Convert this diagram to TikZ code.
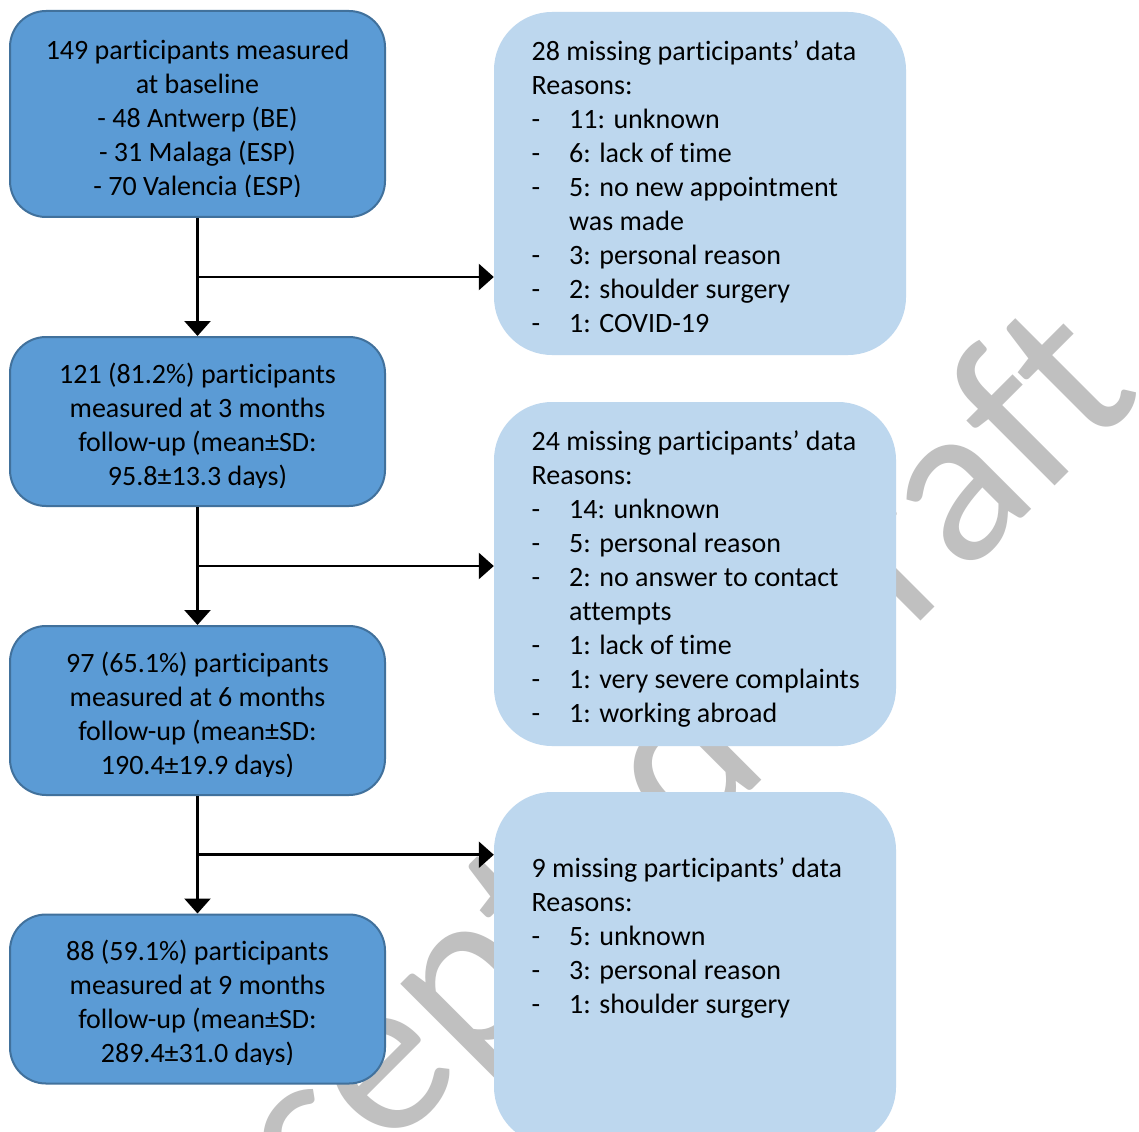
\documentclass[tikz,border=0pt]{standalone}
\usepackage{fontspec}
\setmainfont{Carlito}[Ligatures={NoCommon}]
\newfontfamily\wmfont{Carlito}[Ligatures={NoCommon}]
\usetikzlibrary{arrows.meta,calc}
\definecolor{darkfill}{HTML}{5B9BD5}
\definecolor{darkline}{HTML}{41719C}
\definecolor{lightfill}{HTML}{BDD7EE}
\definecolor{wmgray}{HTML}{C0C0C0}
\newcommand{\itm}[1]{\makebox[37.5pt][l]{-}#1}
\newcommand{\cont}[1]{\hspace*{37.5pt}#1}
\begin{document}
\begin{tikzpicture}[x=1pt,y=-1pt,
  darkbox/.style={rectangle, rounded corners=36pt, draw=darkline, line width=2pt, fill=darkfill, minimum width=375pt, inner sep=0pt},
  lightbox/.style={rectangle, rounded corners=58pt, fill=lightfill, inner sep=0pt},
  boxtext/.style={inner sep=0pt, font=\fontsize{28}{34}\selectfont, text=black},
  arr/.style={line width=2.7pt, -{Triangle[width=26pt,length=15pt]}},
  wm/.style={inner sep=0pt, text=wmgray, font=\wmfont\fontsize{231}{270}\selectfont}]
\fill[white] (0,0) rectangle (1139,1131);
\useasboundingbox (0,0) rectangle (1139,1131);
% watermark
\node[wm, rotate=45] (wmark) at (606,848) {Accepted Draft};
% dark boxes
\node[darkbox, minimum height=206pt] (b1) at (197.5,114) {};
\node[darkbox, minimum height=169pt] (b2) at (197.5,421.5) {};
\node[darkbox, minimum height=169pt] (b3) at (197.5,710.5) {};
\node[darkbox, minimum height=169pt] (b4) at (197.5,999) {};
% light boxes
\node[lightbox, minimum width=412pt, minimum height=343pt] (l1) at (700,183.5) {};
\node[lightbox, minimum width=402pt, minimum height=344pt] (l2) at (695,574) {};
\node[lightbox, minimum width=402pt, minimum height=353pt] (l3) at (695,968.5) {};
% dark box texts
\begin{scope}
\clip (10,0) rectangle (385,197);
\node[boxtext, align=center, anchor=north] (t1) at (197.5,35.2) {\strut 149 participants measured\\at baseline\\- 48 Antwerp (BE)\\- 31 Malaga (ESP)\\- 70 Valencia (ESP)};
\end{scope}
\begin{scope}
\clip (10,300) rectangle (385,487);
\node[boxtext, align=center, anchor=north] (t2) at (197.5,359.2) {\strut 121 (81.2\%) participants\\measured at 3 months\\follow-up (mean±SD:\\95.8±13.3 days)};
\end{scope}
\begin{scope}
\clip (10,600) rectangle (385,776);
\node[boxtext, align=center, anchor=north] (t3) at (197.5,648.2) {\strut 97 (65.1\%) participants\\measured at 6 months\\follow-up (mean±SD:\\190.4±19.9 days)};
\end{scope}
\begin{scope}
\clip (10,900) rectangle (385,1064);
\node[boxtext, align=center, anchor=north] (t4) at (197.5,936.2) {\strut 88 (59.1\%) participants\\measured at 9 months\\follow-up (mean±SD:\\289.4±31.0 days)};
\end{scope}
% light box texts
\node[boxtext, align=left, anchor=north west] (m1) at (531.5,36.2) {\strut 28 missing participants’ data\\Reasons:\\\itm{11: unknown}\\\itm{6: lack of time}\\\itm{5: no new appointment}\\\cont{was made}\\\itm{3: personal reason}\\\itm{2: shoulder surgery}\\\itm{1: COVID-19}};
\node[boxtext, align=left, anchor=north west] (m2) at (531.5,426.2) {\strut 24 missing participants’ data\\Reasons:\\\itm{14: unknown}\\\itm{5: personal reason}\\\itm{2: no answer to contact}\\\cont{attempts}\\\itm{1: lack of time}\\\itm{1: very severe complaints}\\\itm{1: working abroad}};
\node[boxtext, align=left, anchor=north west] (m3) at (531.5,853.2) {\strut 9 missing participants’ data\\Reasons:\\\itm{5: unknown}\\\itm{3: personal reason}\\\itm{1: shoulder surgery}};
% connectors
\coordinate (j1) at ($(b1.south)!0.5!(b2.north)$);
\coordinate (j2) at ($(b2.south)!0.5!(b3.north)$);
\coordinate (j3) at ($(b3.south)!0.5!(b4.north)$);
\draw[arr] (b1.south) -- (b2.north);
\draw[arr] (b2.south) -- (b3.north);
\draw[arr] (b3.south) -- (b4.north);
\draw[arr] (j1) -- (j1 -| l1.west);
\draw[arr] (j2) -- (j2 -| l2.west);
\draw[arr] (j3) -- (j3 -| l3.west);
\end{tikzpicture}
\end{document}
